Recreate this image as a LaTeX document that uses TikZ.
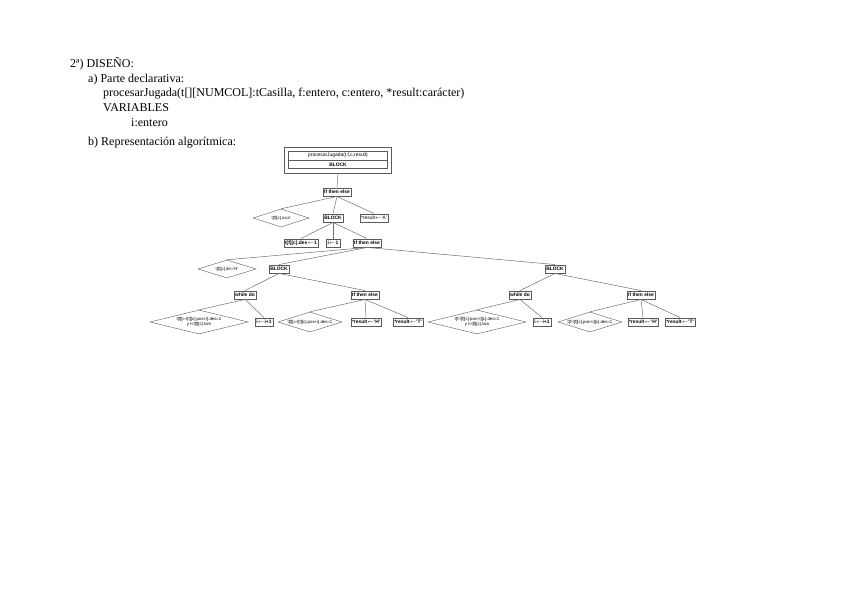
\documentclass[tikz,border=0pt]{standalone}
\usepackage{fontspec}
\setmainfont{Liberation Serif}
\newfontfamily\arialf{Liberation Sans}
\usetikzlibrary{shapes.geometric, positioning}
\definecolor{lineaGris}{RGB}{110,110,110}
\definecolor{bordeGris}{RGB}{90,90,90}

\begin{document}
\begin{tikzpicture}[x=1pt, y=-1pt,
    texto/.style={anchor=base west, inner sep=0pt, font=\fontsize{12}{14}\selectfont},
    caja/.style={draw=bordeGris, fill=white, inner sep=1.3pt, minimum height=8.5pt, font=\arialf\fontsize{4.9}{5.2}\selectfont},
    cajab/.style={caja, font=\arialf\bfseries\fontsize{4.9}{5.2}\selectfont},
    rombo/.style={diamond, draw=bordeGris, fill=white, inner sep=0pt, align=center, font=\arialf\fontsize{4.3}{4.6}\selectfont},
    enlace/.style={draw=lineaGris, line width=0.5pt}]
  \useasboundingbox (0,0) rectangle (848,599);

  % cabecera
  \node[texto] (t1) at (70,68) {2ª) DISEÑO:};
  \node[texto] (t2) at (88,82.5) {a) Parte declarativa:};
  \node[texto] (t3) at (103,97) {procesarJugada(t[][NUMCOL]:tCasilla, f:entero, c:entero, *result:carácter)};
  \node[texto] (t4) at (103,111.5) {VARIABLES};
  \node[texto] (t5) at (131,126) {i:entero};
  \node[texto] (t6) at (88,146) {b) Representación algorítmica:};

  % cabecera del algoritmo
  \node[draw=bordeGris, minimum width=107pt, minimum height=26pt, inner sep=0pt] (marco) at (338,160) {};
  \node[caja, minimum width=99pt] (titulo) at (338,155.5) {procesarJugada(t,f,c,result)};
  \node[cajab, minimum width=99pt, below=0pt of titulo] (bloque0) {BLOCK};

  % primer nivel
  \node[cajab] (si1) at (337,192) {If then else};
  \node[rombo, aspect=3.1, minimum width=56pt, minimum height=18pt] (cond1) at (281,218) {t[f][c].ocu!};
  \node[cajab] (bloque1) at (333,218) {BLOCK};
  \node[caja] (resA) at (374,218) {*result$\leftarrow$'A'};

  % segundo nivel
  \node[cajab] (des1) at (301,243) {t[f][c].des$\leftarrow$1};
  \node[cajab] (ini) at (333,243) {i$\leftarrow$1};
  \node[cajab] (si2) at (367,243) {If then else};
  \node[rombo, aspect=3.2, minimum width=58pt, minimum height=18pt] (cond2) at (227,269) {t[f][c].dir='H'};
  \node[cajab] (bloqueH) at (279,269) {BLOCK};
  \node[cajab] (bloqueV) at (555,269) {BLOCK};

  % rama horizontal
  \node[cajab] (mientrasH) at (245,295) {while do};
  \node[cajab] (siH) at (365,295) {If then else};
  \node[rombo, aspect=4, minimum width=98pt, minimum height=24pt] (condWH) at (199,322) {t[f][c-t[f][c].pos+i].des=1\\y i<t[f][c].tam};
  \node[cajab] (incH) at (264,322) {i$\leftarrow$i+1};
  \node[rombo, aspect=3.2, minimum width=64pt, minimum height=20pt] (condSH) at (310,322) {t[f][c-t[f][c].pos+i].des=1};
  \node[cajab] (resHH) at (366,322) {*result$\leftarrow$'H'};
  \node[cajab] (resTH) at (408,322) {*result$\leftarrow$'T'};

  % rama vertical
  \node[cajab] (mientrasV) at (520,295) {while do};
  \node[cajab] (siV) at (641,295) {If then else};
  \node[rombo, aspect=4, minimum width=98pt, minimum height=24pt] (condWV) at (477,322) {t[f-t[f][c].pos+i][c].des=1\\y i<t[f][c].tam};
  \node[cajab] (incV) at (542,322) {i$\leftarrow$i+1};
  \node[rombo, aspect=3.2, minimum width=64pt, minimum height=20pt] (condSV) at (590,322) {t[f-t[f][c].pos+i][c].des=1};
  \node[cajab] (resHV) at (643,322) {*result$\leftarrow$'H'};
  \node[cajab] (resTV) at (680,322) {*result$\leftarrow$'T'};

  \draw[enlace] (marco.south) -- (si1.north);
  \draw[enlace] (si1.south) -- (cond1.north);
  \draw[enlace] (si1.south) -- (bloque1.north);
  \draw[enlace] (si1.south) -- (resA.north);
  \draw[enlace] (bloque1.south) -- (des1.north);
  \draw[enlace] (bloque1.south) -- (ini.north);
  \draw[enlace] (bloque1.south) -- (si2.north);
  \draw[enlace] (si2.south) -- (cond2.north);
  \draw[enlace] (si2.south) -- (bloqueH.north);
  \draw[enlace] (si2.south) -- (bloqueV.north);
  \draw[enlace] (bloqueH.south) -- (mientrasH.north);
  \draw[enlace] (bloqueH.south) -- (siH.north);
  \draw[enlace] (mientrasH.south) -- (condWH.north);
  \draw[enlace] (mientrasH.south) -- (incH.north);
  \draw[enlace] (siH.south) -- (condSH.north);
  \draw[enlace] (siH.south) -- (resHH.north);
  \draw[enlace] (siH.south) -- (resTH.north);
  \draw[enlace] (bloqueV.south) -- (mientrasV.north);
  \draw[enlace] (bloqueV.south) -- (siV.north);
  \draw[enlace] (mientrasV.south) -- (condWV.north);
  \draw[enlace] (mientrasV.south) -- (incV.north);
  \draw[enlace] (siV.south) -- (condSV.north);
  \draw[enlace] (siV.south) -- (resHV.north);
  \draw[enlace] (siV.south) -- (resTV.north);
\end{tikzpicture}
\end{document}
